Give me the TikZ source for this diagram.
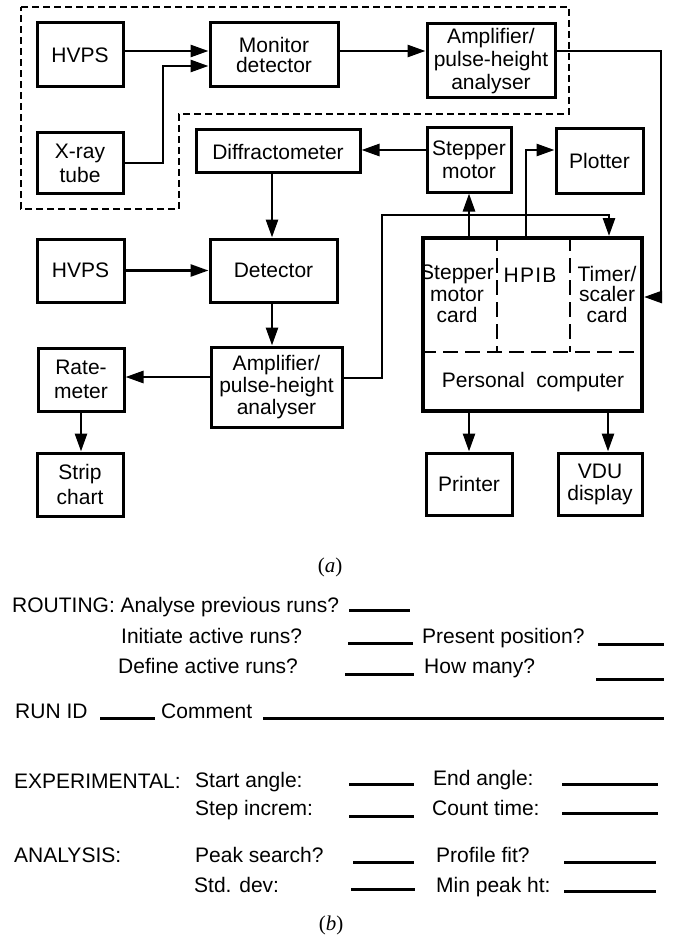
\documentclass[tikz,border=0pt]{standalone}
\usepackage{fontspec}
\setmainfont{Liberation Sans}
\newfontfamily\capfont{Liberation Serif}
\usetikzlibrary{arrows.meta}
\begin{document}
\begin{tikzpicture}[x=1pt,y=-1pt,
  box/.style={draw, line width=3pt, inner sep=0pt, align=center, font=\fontsize{21}{22}\selectfont},
  txt/.style={inner sep=0pt, align=center, font=\fontsize{21}{21.5}\selectfont},
  arr/.style={line width=2.7pt, -{Triangle[length=18pt,width=12pt]}},
  lbl/.style={anchor=base west, inner sep=0pt, font=\fontsize{21}{24}\selectfont},
  captext/.style={anchor=base, inner sep=0pt, font=\capfont\fontsize{21}{24}\selectfont},
  blank/.style={line width=3pt},
  outline/.style={line width=1.7pt, dash pattern=on 7pt off 4pt},
  pcdash/.style={line width=2.8pt, dash pattern=on 15pt off 7pt}]
\useasboundingbox (0,0) rectangle (672,936);

% dashed outline
\draw[outline] (21,7) -- (569,7) -- (569,114) -- (179,114) -- (179,209) -- (21,209) -- cycle;

% boxes
\node[box, minimum width=86pt, minimum height=64pt] (hv1) at (80,55) {HVPS};
\node[box, minimum width=128pt, minimum height=64pt, font=\fontsize{21}{20.5}\selectfont] (mon) at (274,55) {Monitor\\detector};
\node[box, minimum width=128pt, minimum height=74pt, font=\fontsize{21}{23}\selectfont] (amp1) at (491,61) {Amplifier/\\pulse-height\\analyser};
\node[box, minimum width=86pt, minimum height=60pt, font=\fontsize{21}{24}\selectfont] (xray) at (80,163) {X-ray\\tube};
\node[box, minimum width=164pt, minimum height=43pt] (diff) at (278,151.5) {Diffractometer};
\node[box, minimum width=84pt, minimum height=64pt, font=\fontsize{21}{23}\selectfont] (step) at (469,160) {Stepper\\motor};
\node[box, minimum width=87pt, minimum height=64pt] (plot) at (599.5,161) {Plotter};
\node[box, minimum width=87pt, minimum height=63pt] (hv2) at (80.5,270.5) {HVPS};
\node[box, minimum width=127pt, minimum height=63pt] (det) at (273.5,270.5) {Detector};
\node[box, minimum width=131pt, minimum height=80pt, font=\fontsize{21}{22}\selectfont] (amp2) at (276.5,387) {Amplifier/\\pulse-height\\analyser};
\node[box, minimum width=86pt, minimum height=63pt, font=\fontsize{21}{24}\selectfont] (rate) at (81,379.5) {Rate-\\meter};
\node[box, minimum width=86pt, minimum height=63pt, font=\fontsize{21}{24.5}\selectfont] (strip) at (80,484.5) {Strip\\chart};
\node[draw, line width=4pt, inner sep=0pt, minimum width=219pt, minimum height=173pt] (pc) at (532.5,324.5) {};
\node[box, minimum width=86pt, minimum height=62pt] (printer) at (469,484) {Printer};
\node[box, minimum width=84pt, minimum height=62pt] (vdu) at (600,484) {VDU\\display};

% PC internals
\coordinate (pcd) at (0,352);
\coordinate (c1) at (497,0);
\coordinate (c2) at (570,0);
\draw[pcdash] (pc.west |- pcd) -- (pc.east |- pcd);
\draw[pcdash] (pc.north -| c1) -- (pcd -| c1);
\draw[pcdash] (pc.north -| c2) -- (pcd -| c2);
\node[txt] (smc) at (457,294) {Stepper\\motor\\card};
\node[txt] (hpib) at (530,275.5) {H\kern1.2pt P\kern1.2pt I\kern1.2pt B};
\node[txt, font=\fontsize{21}{20.5}\selectfont] (tsc) at (607,294) {Timer/\\scaler\\card};
\node[txt] (pcl) at (533,382) {Personal~ computer};

% bend coordinates
\coordinate (b1) at (163,0);
\coordinate (rx) at (661,0);
\coordinate (px) at (526,0);
\coordinate (dx) at (272,0);
\coordinate (ax) at (382,215);
\coordinate (tx) at (609,0);
\coordinate (vx) at (608,0);

% connectors
\draw[arr] ([yshift=4pt]hv1.east) -- ([yshift=4pt]hv1.east -| mon.west);
\draw[arr] (xray.east) -- (xray.east -| b1) |- ([yshift=-11pt]mon.west);
\draw[arr] ([yshift=4pt]mon.east) -- ([yshift=4pt]mon.east -| amp1.west);
\draw[arr] ([yshift=10pt]amp1.east) -- ([yshift=10pt]amp1.east -| rx) |- ([yshift=27.5pt]pc.east);
\draw[arr] ([yshift=10pt]step.west) -- ([yshift=10pt]step.west -| diff.east);
\draw[arr] (pc.north -| step.south) -- (step.south);
\draw[arr] (pc.north -| px) |- ([yshift=11pt]plot.west);
\draw[arr] (diff.south -| dx) -- (det.north -| dx);
\draw[arr] (hv2.east) -- (det.west);
\draw[arr] (det.south -| dx) -- (amp2.north -| dx);
\draw[arr] ([yshift=10pt]amp2.west) -- ([yshift=10pt]amp2.west -| rate.east);
\draw[arr] (rate.south) -- (rate.south |- strip.north);
\draw[arr] ([yshift=9pt]amp2.east) -| (ax) -| (pc.north -| tx);
\draw[arr] (pc.south -| printer.north) -- (printer.north);
\draw[arr] (pc.south -| vx) -- (vdu.north -| vx);

% caption (a)
\node[captext] (capa) at (330,572) {(\textit{a})};

% form (b)
\node[lbl] (f1) at (12,612) {ROUTING: Analyse previous runs?};
\draw[blank] (349,610) -- (410,610);
\node[lbl] (f2) at (121,643) {Initiate active runs?};
\draw[blank] (348,643) -- (413,643);
\node[lbl] (f3) at (422,643) {Present position?};
\draw[blank] (598,644) -- (664,644);
\node[lbl] (f4) at (118,673) {Define active runs?};
\draw[blank] (345,674) -- (414,674);
\node[lbl] (f5) at (424,673) {How many?};
\draw[blank] (596,679) -- (664,679);
\node[lbl] (f6) at (15,718) {RUN ID};
\draw[blank] (100,718) -- (155,718);
\node[lbl] (f7) at (161,718) {Comment};
\draw[blank] (263,718) -- (664,718);

\node[lbl] (f8) at (14,788) {EXPERIMENTAL:};
\node[lbl] (f9) at (195,787) {Start angle:};
\draw[blank] (349,784) -- (414,784);
\node[lbl] (f10) at (433,785) {End angle:};
\draw[blank] (562,784) -- (658,784);
\node[lbl] (f11) at (195,815) {Step increm:};
\draw[blank] (349,816) -- (414,816);
\node[lbl] (f12) at (432,815) {Count time:};
\draw[blank] (562,813) -- (658,813);

\node[lbl] (f13) at (14,862) {ANALYSIS:};
\node[lbl] (f14) at (195,862) {Peak search?};
\draw[blank] (353,862) -- (414,862);
\node[lbl] (f15) at (436,862) {Profile fit?};
\draw[blank] (564,862) -- (656,862);
\node[lbl] (f16) at (194,892) {Std. dev:};
\draw[blank] (351,889) -- (415,889);
\node[lbl] (f17) at (436,892) {Min peak ht:};
\draw[blank] (564,891) -- (656,891);

\node[captext] (capb) at (331,930) {(\textit{b})};
\end{tikzpicture}
\end{document}
